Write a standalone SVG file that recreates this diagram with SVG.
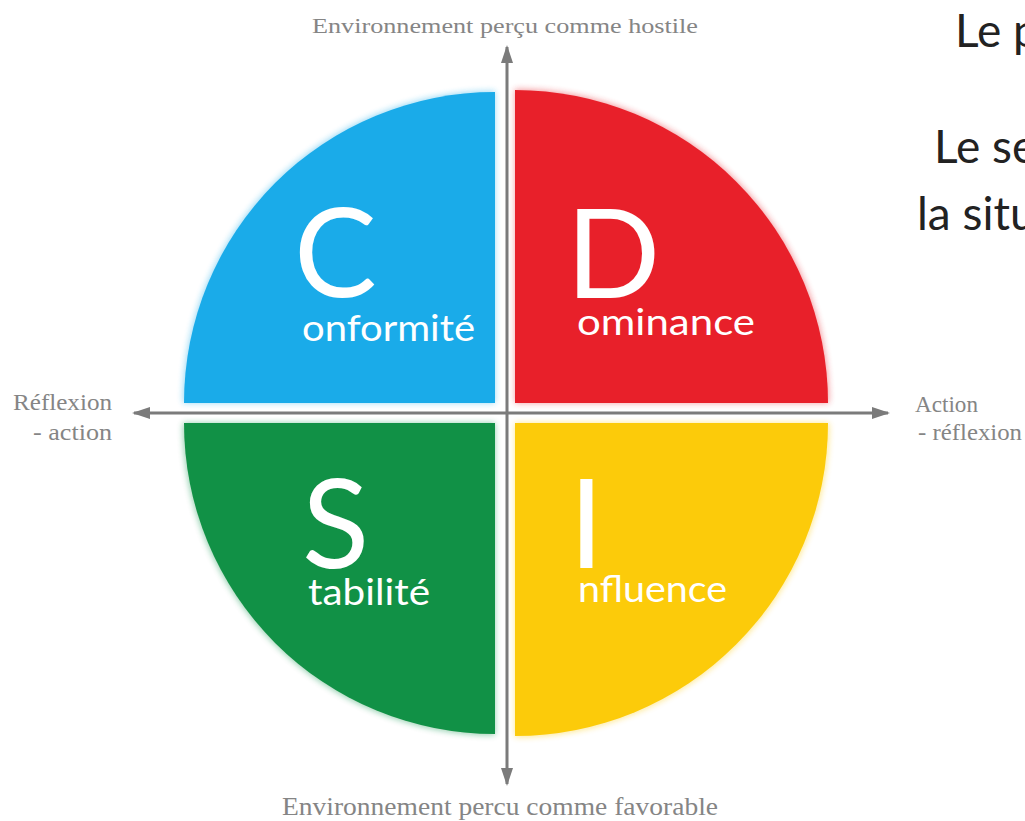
<svg xmlns="http://www.w3.org/2000/svg" width="1025" height="821" viewBox="0 0 1025 821">
  <style>
    .lbl { font-family: Lato, "Open Sans", sans-serif; fill: #ffffff; font-size: 36px; }
    .big { font-size: 124px; }
    .axis-label { font-family: "Liberation Serif", "DejaVu Serif", serif; fill: #858585; }
    .side { font-family: Lato, "Open Sans", sans-serif; fill: #222222; font-size: 46px; }
    .axis { stroke: #7b7b7b; stroke-width: 3; fill: none; }
  </style>
  <defs>
    <marker id="arrow" viewBox="0 0 18 12" refX="16" refY="6" markerWidth="18" markerHeight="12" markerUnits="userSpaceOnUse" orient="auto-start-reverse">
      <path d="M0,0 L18,6 L0,12 Z" fill="#7b7b7b"/>
    </marker>
    <filter id="soft" x="-10%" y="-10%" width="120%" height="120%">
      <feGaussianBlur stdDeviation="3"/>
    </filter>
  </defs>
  <rect width="1025" height="821" fill="#ffffff"/>

  <g id="node-C">
    <path d="M495,403 L183,403 A312,312 0 0 1 495,91 Z" fill="#1aabe9" opacity="0.45" filter="url(#soft)"/>
    <path d="M495,403 L184,403 A311,311 0 0 1 495,92 Z" fill="#1aabe9"/>
    <text class="lbl"><tspan class="big" x="294" y="297">C</tspan><tspan x="302" y="341" textLength="173" lengthAdjust="spacingAndGlyphs">onformité</tspan></text>
  </g>

  <g id="node-D">
    <path d="M515,403 L515,89 A314,314 0 0 1 829,403 Z" fill="#e8202a" opacity="0.45" filter="url(#soft)"/>
    <path d="M515,403 L515,90 A313,313 0 0 1 828,403 Z" fill="#e8202a"/>
    <text class="lbl"><tspan class="big" x="566" y="298">D</tspan><tspan x="577" y="335" textLength="178" lengthAdjust="spacingAndGlyphs">ominance</tspan></text>
  </g>

  <g id="node-S">
    <path d="M495,423 L495,735 A312,312 0 0 1 183,423 Z" fill="#119146" opacity="0.45" filter="url(#soft)"/>
    <path d="M495,423 L495,734 A311,311 0 0 1 184,423 Z" fill="#119146"/>
    <text class="lbl"><tspan class="big" x="302" y="568">S</tspan><tspan x="308" y="605" textLength="122" lengthAdjust="spacingAndGlyphs">tabilité</tspan></text>
  </g>

  <g id="node-I">
    <path d="M515,423 L829,423 A314,314 0 0 1 515,737 Z" fill="#fccb0a" opacity="0.45" filter="url(#soft)"/>
    <path d="M515,423 L828,423 A313,313 0 0 1 515,736 Z" fill="#fccb0a"/>
    <text class="lbl"><tspan class="big" x="569" y="568">I</tspan><tspan x="578" y="602" textLength="149" lengthAdjust="spacingAndGlyphs">nfluence</tspan></text>
  </g>

  <g id="connectors">
    <line class="axis" x1="507" y1="784" x2="507" y2="47" marker-start="url(#arrow)" marker-end="url(#arrow)"/>
    <line class="axis" x1="888" y1="413" x2="134" y2="413" marker-start="url(#arrow)" marker-end="url(#arrow)"/>
  </g>

  <g id="axis-labels">
    <text class="axis-label" x="312" y="33" font-size="21" textLength="386" lengthAdjust="spacingAndGlyphs">Environnement perçu comme hostile</text>
    <text class="axis-label" x="282" y="815" font-size="25" textLength="436" lengthAdjust="spacingAndGlyphs">Environnement percu comme favorable</text>
    <text class="axis-label" x="13" y="410" font-size="23" textLength="99" lengthAdjust="spacingAndGlyphs">Réflexion</text>
    <text class="axis-label" x="33" y="440" font-size="23" textLength="79" lengthAdjust="spacingAndGlyphs">- action</text>
    <text class="axis-label" x="915" y="412" font-size="23" textLength="63" lengthAdjust="spacingAndGlyphs">Action</text>
    <text class="axis-label" x="918" y="440" font-size="23" textLength="104" lengthAdjust="spacingAndGlyphs">- réflexion</text>
  </g>

  <g id="side-text">
    <text class="side" x="955" y="47">Le p</text>
    <text class="side" x="934" y="163">Le se</text>
    <text class="side" x="917" y="230">la situ</text>
  </g>
</svg>
